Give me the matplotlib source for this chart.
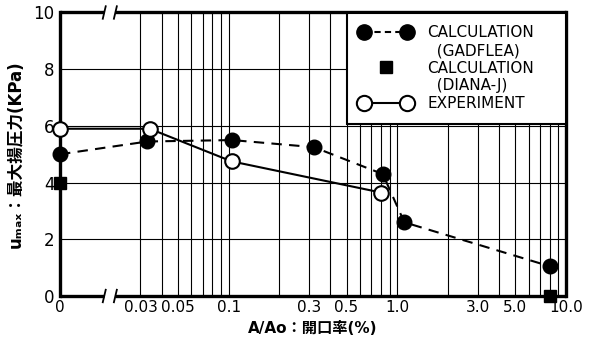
import matplotlib
matplotlib.use("Agg")
import matplotlib.pyplot as plt
from matplotlib.lines import Line2D
from matplotlib.legend_handler import HandlerLine2D
import matplotlib.transforms as mtransforms

plt.rcParams['font.family'] = ['DejaVu Sans', 'Noto Sans CJK JP']

# "0" on the broken axis is drawn at 0.01 on the log scale
ZERO_POS = 0.01

gad_x = [0, 0.033, 0.105, 0.32, 0.82, 1.1, 8.0]
gad_y = [5.0, 5.45, 5.5, 5.25, 4.3, 2.6, 1.05]

diana_x = [0, 8.0]
diana_y = [4.0, 0.0]

exp_x = [0, 0.034, 0.104, 0.80]
exp_y = [5.9, 5.9, 4.75, 3.65]

xtick_vals = [0, 0.03, 0.05, 0.1, 0.3, 0.5, 1.0, 3.0, 5.0, 10.0]
xtick_labels = ['0', '0.03', '0.05', '0.1', '0.3', '0.5', '1.0', '3.0', '5.0', '10.0']
ytick_vals = [0, 2, 4, 6, 8, 10]


def pos(v):
    return [ZERO_POS if a == 0 else a for a in v]


fig = plt.figure(figsize=(5.95, 3.48), dpi=100)
ax = fig.add_axes([60 / 595, 52 / 348, 506 / 595, 283.5 / 348])
ax.set_xscale('log')
ax.set_xlim(0.01, 10)
ax.set_ylim(0, 10)

# grid
vgrid = [m * 10.0 ** e for e in (-2, -1, 0) for m in range(1, 10)]
vgrid = [g for g in vgrid if g >= 0.029 and g < 9.99]
for g in vgrid:
    ax.axvline(g, color='black', lw=0.8, zorder=1)
for g in [2, 4, 6, 8]:
    ax.axhline(g, color='black', lw=0.8, zorder=1)

DASH = (0, (5, 3.5))
ax.plot(pos(gad_x), gad_y, color='black', ls=DASH, lw=1.5,
        marker='o', ms=10.5, mfc='black', mec='black', zorder=4, clip_on=False)
ax.plot(pos(diana_x), diana_y, ls='none', marker='s', ms=9,
        mfc='black', mec='black', zorder=5, clip_on=False)
ax.plot(pos(exp_x), exp_y, color='black', ls='-', lw=1.5,
        marker='o', ms=10.5, mfc='white', mec='black', mew=1.5, zorder=6, clip_on=False)

ax.set_xticks(pos(xtick_vals))
ax.set_xticklabels(xtick_labels, fontsize=11)
ax.xaxis.set_minor_locator(matplotlib.ticker.NullLocator())
ax.set_yticks(ytick_vals)
ax.set_yticklabels([str(v) for v in ytick_vals], fontsize=12)
ax.tick_params(length=0, pad=4)
ax.tick_params(axis='x', pad=3)

# spines with break marks
for s in ['top', 'bottom']:
    ax.spines[s].set_visible(False)
for s in ['left', 'right']:
    ax.spines[s].set_linewidth(2.4)
trans = mtransforms.blended_transform_factory(ax.transData, ax.transAxes)
bx1, bx2 = 0.0183, 0.0213
for yy in (0, 1):
    ax.plot([0.01, bx1], [yy, yy], color='black', lw=2.4, transform=trans,
            clip_on=False, zorder=7, solid_capstyle='butt')
    ax.plot([bx2, 10], [yy, yy], color='black', lw=2.4, transform=trans,
            clip_on=False, zorder=7, solid_capstyle='butt')
    for bx in (bx1, bx2):
        ax.plot([bx * 0.98, bx * 1.02], [yy - 0.022, yy + 0.022], color='black', lw=1.3,
                transform=trans, clip_on=False, zorder=7)

# legend
h_gad = Line2D([], [], color='black', ls=(0, (3, 2)), lw=1.5, marker='o', ms=11,
               mfc='black', mec='black')
h_sq = Line2D([], [], ls='none', marker='s', ms=9, mfc='black', mec='black')
h_exp = Line2D([], [], color='black', lw=1.5, marker='o', ms=11, mfc='white',
               mec='black', mew=1.5)
h_b1 = Line2D([], [], ls='none')
h_b2 = Line2D([], [], ls='none')
handles = [h_gad, h_b1, h_sq, h_b2, h_exp]
labels = ['CALCULATION', '  (GADFLEA)', 'CALCULATION', '  (DIANA-J)', 'EXPERIMENT']
leg = ax.legend(handles, labels, loc='upper left',
                bbox_to_anchor=(0.567, 0.607, 0.433, 0.393), mode='expand',
                borderaxespad=0, fontsize=11, handlelength=3.4, labelspacing=0.17,
                handletextpad=1.0, borderpad=0.85, fancybox=False, framealpha=1,
                edgecolor='black', numpoints=2,
                handler_map={h_sq: HandlerLine2D(numpoints=1)})
leg.get_frame().set_linewidth(1.5)
leg.set_zorder(10)

ax.set_xlabel('A/Ao：開口率(%)', fontsize=11, fontweight='bold', labelpad=4)
ax.set_ylabel('uₘₐₓ：最大揚圧力(KPa)', fontsize=12,
              fontweight='bold', labelpad=6)

fig.savefig('out.png', dpi=100)
